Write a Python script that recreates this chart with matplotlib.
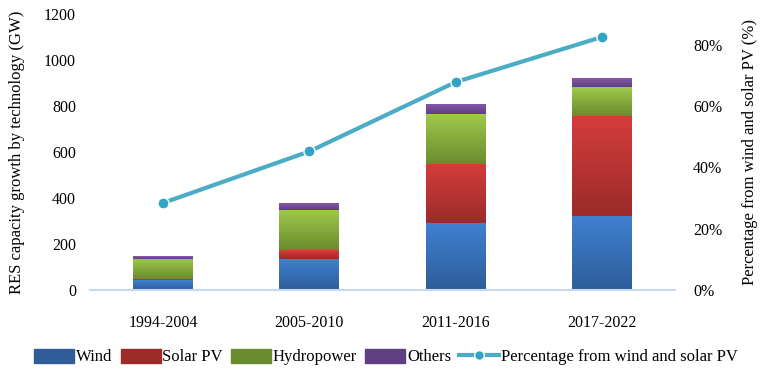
import numpy as np
import matplotlib.pyplot as plt
from matplotlib.lines import Line2D
from matplotlib.patches import Patch
from matplotlib.colors import LinearSegmentedColormap
from matplotlib.ticker import PercentFormatter

plt.rcParams['font.family'] = ['Liberation Serif', 'DejaVu Serif']

periods = ['1994-2004', '2005-2010', '2011-2016', '2017-2022']
wind = [42, 136, 290, 322]
solar = [4, 38, 259, 436]
hydro = [90, 174, 215, 123]
others = [12, 32, 45, 42]
share = [0.284, 0.452, 0.678, 0.825]

names = ['Wind', 'Solar PV', 'Hydropower', 'Others']
# (top colour, bottom colour) for the shaded bars
shades = [('#3f80d0', '#2e5d9a'), ('#d43d3b', '#9c2b2a'),
          ('#9ec94a', '#6b8c2e'), ('#8a5bb0', '#5f3e82')]

fig = plt.figure(figsize=(7.6, 3.75), dpi=100)
ax = fig.add_axes([90 / 760, 1 - 290 / 375, 585 / 760, 276 / 375])
ax2 = ax.twinx()

x = np.arange(len(periods))
bottom = np.zeros(len(periods))
for vals, (top_c, bot_c) in zip([wind, solar, hydro, others], shades):
    bars = ax.bar(x, vals, 0.41, bottom=bottom, color=bot_c, zorder=2)
    cmap = LinearSegmentedColormap.from_list('g', [bot_c, top_c])
    for b in bars:
        x0, y0 = b.get_x(), b.get_y()
        im = ax.imshow(np.linspace(0, 1, 64).reshape(-1, 1), cmap=cmap,
                       extent=[x0, x0 + b.get_width(), y0, y0 + b.get_height()],
                       origin='lower', aspect='auto', zorder=2.5)
        im.set_clip_path(b)
    bottom += np.array(vals)

ax.set_xlim(-0.5, 3.5)
ax.set_ylim(0, 1200)
ax.set_yticks(range(0, 1201, 200))
ax.set_xticks(x)
ax.set_xticklabels(periods)
ax.set_ylabel('RES capacity growth by technology (GW)', fontsize=12, labelpad=14)

ax2.plot(x, share, color='#4bacc6', lw=3, marker='o', ms=8,
         mfc='#31a3c4', mec='white', mew=1, zorder=3)
ax2.set_ylim(0, 0.9)
ax2.set_yticks([0, 0.2, 0.4, 0.6, 0.8])
ax2.yaxis.set_major_formatter(PercentFormatter(1.0, decimals=0))
ax2.set_ylabel('Percentage from wind and solar PV (%)', fontsize=12, labelpad=14)

for a in (ax, ax2):
    for s in a.spines.values():
        s.set_visible(False)
    a.tick_params(length=0, labelsize=11.5)
ax.tick_params(axis='x', pad=18)
ax.tick_params(axis='y', pad=10)
ax2.tick_params(axis='y', pad=13)
ax.spines['bottom'].set_visible(True)
ax.spines['bottom'].set_color('#c6d9f0')
ax.spines['bottom'].set_linewidth(1.5)

handles = [Patch(color=c[1], label=n) for n, c in zip(names, shades)]
handles.append(Line2D([], [], color='#4bacc6', lw=3, marker='o', ms=7,
                      mfc='#31a3c4', mec='white',
                      label='Percentage from wind and solar PV'))
fig.legend(handles=handles, loc='center', bbox_to_anchor=(0.508, 1 - 357 / 375),
           ncol=5, frameon=False, fontsize=12, handlelength=2.4,
           handletextpad=0.1, columnspacing=0.5, handleheight=0.9)

fig.savefig('out.png', dpi=100)
